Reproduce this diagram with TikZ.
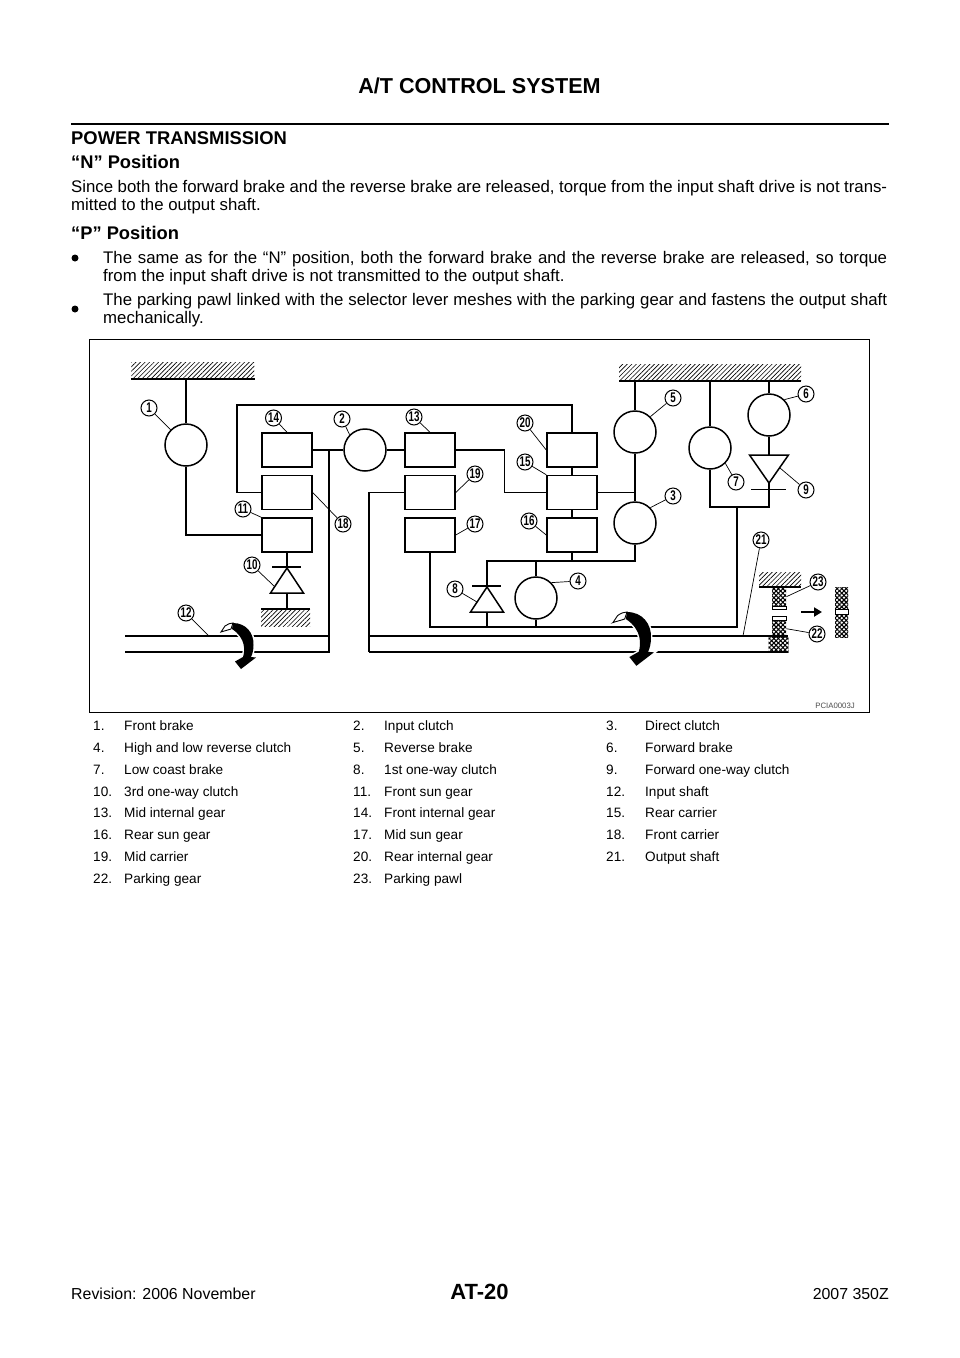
\documentclass[tikz,border=0pt]{standalone}
\usepackage{fontspec}
\setmainfont{Liberation Sans}
\usepackage{tikz}
\usetikzlibrary{arrows.meta, patterns.meta, positioning, calc}

\newcommand{\partno}[3][31pt]{\makebox[#1][l]{#2}#3}
\newcommand{\tagtext}[1]{\scalebox{.7}[1]{#1}}

\tikzset{
	wire/.style={line width=1.5pt},
	lead/.style={line width=.7pt},
	gearbox/.style={draw, line width=1.5pt, rectangle, minimum width=50pt, minimum height=34pt, inner sep=0pt},
	brake/.style={draw, line width=1.5pt, circle, minimum size=42pt, inner sep=0pt},
	tagno/.style={draw, line width=1pt, circle, minimum size=16pt, inner sep=0pt, font=\bfseries\fontsize{14}{14}\selectfont},
	wall/.style={rectangle, inner sep=0pt, pattern={Lines[angle=45,distance=3.2pt,line width=.65pt]}},
	mesh/.style={rectangle, inner sep=0pt, anchor=north west, preaction={pattern={Lines[angle=45,distance=3.2pt,line width=1.1pt]}}, pattern={Lines[angle=-45,distance=3.2pt,line width=1.1pt]}},
	gap/.style={draw, rectangle, line width=.9pt, inner sep=0pt, anchor=north west},
	txt/.style={anchor=base west, inner sep=0pt},
	body/.style={txt, font=\fontsize{16.8}{16.8}\selectfont},
	head/.style={txt, font=\bfseries\fontsize{18.3}{18.3}\selectfont},
	cell/.style={txt, font=\fontsize{13.6}{13.6}\selectfont},
	pics/diode/.style={code={
		\coordinate (-top) at (0,0);
		\coordinate (-base) at (0,25);
		\draw[wire] (0,0) -- (-16.5,25) -- (16.5,25) -- cycle;
		\draw[wire] (-15,-#1) -- (14,-#1);
	}},
	pics/turn/.style={code={
		\fill[preaction={draw=white, line width=3pt}] (0,0) .. controls (13,0) and (21,10) .. (20.5,22) .. controls (20.5,27) and (19.5,31) .. (18,34)
		-- (23,34.5) -- (8,46) -- (2,38.5) -- (10,34) .. controls (12,28) and (13,15) .. (-1,6) -- cycle;
		\draw[line width=.9pt, fill=white] (-12,9) -- (-8,3) .. controls (-5,1) and (-3,0) .. (0,0) -- (-2,6) .. controls (-5,7) and (-9,8) .. cycle;
	}},
}

\begin{document}
\begin{tikzpicture}[x=1pt,y=-1pt,node distance=42.5pt,on grid]
	\useasboundingbox (0,0) rectangle (960,1358);

	% page text
	\node[anchor=base, inner sep=0pt, font=\bfseries\fontsize{21.6}{21.6}\selectfont] (title) at (479.5,93) {A/T CONTROL SYSTEM};
	\coordinate (ra) at (71,124);
	\coordinate (rb) at (889,124);
	\draw[line width=2.6pt] (ra) -- (rb);
	\node[txt, font=\bfseries\fontsize{18.4}{18.4}\selectfont] (h1) at (71,144) {POWER TRANSMISSION};
	\node[head] (h2) at (71,168) {“N” Position};
	\node[body] (l1) at (71,192) {\makebox[816pt][s]{Since both the forward brake and the reverse brake are released, torque from the input shaft drive is not trans-}};
	\node[body] (l2) at (71,210) {mitted to the output shaft.};
	\node[head] (h3) at (71,239) {“P” Position};
	\node[circle, fill, minimum size=7pt, inner sep=0pt] (b1) at (75,258) {};
	\node[body] (l3) at (103,263) {\makebox[784pt][s]{The same as for the “N” position, both the forward brake and the reverse brake are released, so torque}};
	\node[body] (l4) at (103,281) {from the input shaft drive is not transmitted to the output shaft.};
	\node[circle, fill, minimum size=7pt, inner sep=0pt] (b2) at (75,309) {};
	\node[body] (l5) at (103,305) {\makebox[784pt][s]{The parking pawl linked with the selector lever meshes with the parking gear and fastens the output shaft}};
	\node[body] (l6) at (103,323) {mechanically.};

	\node[draw, line width=1.3pt, rectangle, anchor=north west, inner sep=0pt, minimum width=780pt, minimum height=373pt] (frame) at (89,339) {};

	% walls
	\node[wall, anchor=south west, minimum width=123pt, minimum height=16pt] (w1) at (131,379) {};
	\node[wall, anchor=north west, minimum width=49pt, minimum height=17pt] (w2) at (261,609) {};
	\node[wall, anchor=south west, minimum width=182pt, minimum height=16pt] (w3) at (619,381) {};
	\node[wall, anchor=south west, minimum width=42pt, minimum height=14pt] (w4) at (759,587) {};
	\draw[wire] (w1.south west) -- (w1.south east);
	\draw[wire] (w2.north west) -- (w2.north east);
	\draw[wire] (w3.south west) -- (w3.south east);
	\draw[wire] (w4.south west) -- (w4.south east);

	% planetary sets
	\node[gearbox] (g14) at (287,450) {};
	\node[gearbox, below = of g14] (g18) {};
	\node[gearbox, below = of g18] (g11) {};
	\node[gearbox, right = 143pt of g14] (g13) {};
	\node[gearbox, below = of g13] (g19) {};
	\node[gearbox, below = of g19] (g17) {};
	\node[gearbox, right = 142pt of g13] (g20) {};
	\node[gearbox, below = of g20] (g15) {};
	\node[gearbox, below = of g15] (g16) {};

	% clutches and brakes
	\node[brake] (c1) at (186,445) {};
	\node[brake] (c2) at (365,450) {};
	\node[brake] (c3) at (635,523) {};
	\node[brake] (c4) at (536,598) {};
	\node[brake] (c5) at (635,432) {};
	\node[brake] (c6) at (769,415) {};
	\node[brake] (c7) at (710,448) {};

	\pic (d10) at (287,568) {diode=1};
	\pic (d8) at (487,587) {diode=1};
	\pic[xscale=1.18, yscale=-1.12] (d9) at (769,483) {diode=6};

	% shafts
	\coordinate (s1a) at (125,636);
	\coordinate (s1b) at (329,636);
	\coordinate (s1c) at (329,652);
	\coordinate (s1d) at (125,652);
	\coordinate (s2a) at (369,636);
	\coordinate (s2b) at (788,636);
	\coordinate (s2c) at (788,652);
	\coordinate (s2d) at (369,652);
	\coordinate (j1) at (329,450);
	\coordinate (j2) at (237,405);
	\coordinate (j3) at (504.5,492);
	\coordinate (j4) at (428,627);
	\coordinate (j5) at (737,627);
	\coordinate (j6) at (737,507);
	\coordinate (j7) at (635,561);

	\draw[wire] (s1a) -- (s1b);
	\draw[wire] (s1d) -- (s1c) -- (j1);
	\draw[wire] (s2a) -- (s2b);
	\draw[wire] (s2d) -- (s2c);
	\draw[wire] (g19.west) -| (s2d);

	\draw[wire] (c1.north) -- (c1 |- w1.south);
	\draw[wire] (c1.south) |- (g11.west);
	\draw[wire] (g14.east) -- (c2.west);
	\draw[wire] (c2.east) -- (g13.west);
	\draw[wire] (g18.west) -| (j2) -| (g20.north);
	\draw[wire] (g11.south) -- (d10-top);
	\draw[wire] (d10-base) -- (d10-base |- w2.north);
	\draw[wire] (g13.east) -| (j3 |- g15.west) -- (g15.west);
	\draw[wire] (g20.south) -- (g15.north);
	\draw[wire] (g15.south) -- (g16.north);
	\draw[wire] (g16.south) -- (g16.south |- j7);
	\draw[wire] (g15.east) -- (c5.south |- g15.east);
	\draw[wire] (c5.north) -- (c5 |- w3.south);
	\draw[wire] (c5.south) -- (c3.north);
	\draw[wire] (d8-top) -- (d8-top |- j7) -- (j7) -- (c3.south);
	\draw[wire] (c4.north) -- (c4 |- j7);
	\draw[wire] (d8-base) -- (d8-base |- j4);
	\draw[wire] (c4.south) -- (c4 |- j4);
	\draw[wire] (g17.south) |- (j5) -- (j6);
	\draw[wire] (c7.north) -- (c7 |- w3.south);
	\draw[wire] (c6.north) -- (c6 |- w3.south);
	\draw[wire] (c6.south) -- (d9-base);
	\draw[wire] (c7.south) |- (d9-top |- j6) -- (d9-top);

	\pic at (233,623) {turn};
	\pic[scale=1.17] at (627,612) {turn};

	% parking lock
	\node[mesh, minimum width=20pt, minimum height=15pt] (m1) at (768,637) {};
	\node[mesh, minimum width=14pt, minimum height=17pt] (m2) at (772,620) {};
	\node[gap, minimum width=14pt, minimum height=4pt] (n2) at (772,616) {};
	\node[mesh, minimum width=14pt, minimum height=19pt] (m3) at (772,587) {};
	\node[gap, minimum width=14pt, minimum height=3pt] (n3) at (772,606) {};
	\node[mesh, minimum width=13pt, minimum height=22pt] (m4) at (835,587) {};
	\node[gap, minimum width=13pt, minimum height=5pt, line width=.4pt] (n4) at (835,609) {};
	\node[mesh, minimum width=13pt, minimum height=23pt] (m5) at (835,614) {};
	\coordinate (a1) at (801,612);
	\coordinate (a2) at (822,612);
	\draw[line width=2.8pt, -{Triangle[length=8pt,width=9pt]}] (a1) -- (a2);

	% numbered tags
	\node[tagno] (t1) at (149,408) {\tagtext{1}};
	\node[tagno] (t2) at (342,419) {\tagtext{2}};
	\node[tagno] (t3) at (673,496) {\tagtext{3}};
	\node[tagno] (t4) at (578,581) {\tagtext{4}};
	\node[tagno] (t5) at (673,398) {\tagtext{5}};
	\node[tagno] (t6) at (806,394) {\tagtext{6}};
	\node[tagno] (t7) at (736,482) {\tagtext{7}};
	\node[tagno] (t8) at (455,589) {\tagtext{8}};
	\node[tagno] (t9) at (806,490) {\tagtext{9}};
	\node[tagno] (t10) at (252,565) {\tagtext{10}};
	\node[tagno] (t11) at (243,509) {\tagtext{11}};
	\node[tagno] (t12) at (186,613) {\tagtext{12}};
	\node[tagno] (t13) at (414,417) {\tagtext{13}};
	\node[tagno] (t14) at (273.5,418) {\tagtext{14}};
	\node[tagno] (t15) at (525,462) {\tagtext{15}};
	\node[tagno] (t16) at (529,521) {\tagtext{16}};
	\node[tagno] (t17) at (475,524) {\tagtext{17}};
	\node[tagno] (t18) at (343,524) {\tagtext{18}};
	\node[tagno] (t19) at (475,474) {\tagtext{19}};
	\node[tagno] (t20) at (525,423) {\tagtext{20}};
	\node[tagno] (t21) at (761,540) {\tagtext{21}};
	\node[tagno] (t22) at (817,634) {\tagtext{22}};
	\node[tagno] (t23) at (818,582) {\tagtext{23}};

	\coordinate (e8) at (477,602);
	\coordinate (e9) at (780,468);
	\coordinate (e10) at (274,586);
	\coordinate (e12) at (209,636);
	\coordinate (e21) at (743,636);

	\draw[lead] (t1) -- (c1.north west);
	\draw[lead] (t2) -- (c2.north west);
	\draw[lead] (t3) -- (c3.north east);
	\draw[lead] (t4) -- (c4.north east);
	\draw[lead] (t5) -- (c5.north east);
	\draw[lead] (t6) -- (c6.north east);
	\draw[lead] (t7) -- (c7.south east);
	\draw[lead] (t8) -- (e8);
	\draw[lead] (t9) -- (e9);
	\draw[lead] (t10) -- (e10);
	\draw[lead] (t11) -- (g11.north west);
	\draw[lead] (t12) -- (e12);
	\draw[lead] (t13) -- (g13.north);
	\draw[lead] (t14) -- (g14.north);
	\draw[lead] (t15) -- (g15.north west);
	\draw[lead] (t16) -- (g16.west);
	\draw[lead] (t17) -- (g17.east);
	\draw[lead] (t18) -- (g18.east);
	\draw[lead] (t19) -- (g19.east);
	\draw[lead] (t20) -- (g20.west);
	\draw[lead] (t21) -- (e21);
	\draw[lead] (t22) -- (m2.east);
	\draw[lead] (t23) -- (m3.east);

	\node[anchor=base east, inner sep=0pt, text=black!70, font=\fontsize{7.8}{7.8}\selectfont] (code) at (855,708) {PCIA0003J};

	% parts table
	\node[cell] (p1) at (93,730) {\partno{1.}{Front brake}};
	\node[cell] (p2) at (353,730) {\partno{2.}{Input clutch}};
	\node[cell] (p3) at (606,730) {\partno[39pt]{3.}{Direct clutch}};
	\node[cell] (p4) at (93,752) {\partno{4.}{High and low reverse clutch}};
	\node[cell] (p5) at (353,752) {\partno{5.}{Reverse brake}};
	\node[cell] (p6) at (606,752) {\partno[39pt]{6.}{Forward brake}};
	\node[cell] (p7) at (93,774) {\partno{7.}{Low coast brake}};
	\node[cell] (p8) at (353,774) {\partno{8.}{1st one-way clutch}};
	\node[cell] (p9) at (606,774) {\partno[39pt]{9.}{Forward one-way clutch}};
	\node[cell] (p10) at (93,796) {\partno{10.}{3rd one-way clutch}};
	\node[cell] (p11) at (353,796) {\partno{11.}{Front sun gear}};
	\node[cell] (p12) at (606,796) {\partno[39pt]{12.}{Input shaft}};
	\node[cell] (p13) at (93,817) {\partno{13.}{Mid internal gear}};
	\node[cell] (p14) at (353,817) {\partno{14.}{Front internal gear}};
	\node[cell] (p15) at (606,817) {\partno[39pt]{15.}{Rear carrier}};
	\node[cell] (p16) at (93,839) {\partno{16.}{Rear sun gear}};
	\node[cell] (p17) at (353,839) {\partno{17.}{Mid sun gear}};
	\node[cell] (p18) at (606,839) {\partno[39pt]{18.}{Front carrier}};
	\node[cell] (p19) at (93,861) {\partno{19.}{Mid carrier}};
	\node[cell] (p20) at (353,861) {\partno{20.}{Rear internal gear}};
	\node[cell] (p21) at (606,861) {\partno[39pt]{21.}{Output shaft}};
	\node[cell] (p22) at (93,883) {\partno{22.}{Parking gear}};
	\node[cell] (p23) at (353,883) {\partno{23.}{Parking pawl}};

	% footer
	\node[txt, font=\fontsize{15.9}{15.9}\selectfont] (f1) at (71,1299) {Revision: 2006 November};
	\node[anchor=base, inner sep=0pt, font=\bfseries\fontsize{22}{22}\selectfont] (f2) at (479.5,1299) {AT-20};
	\node[anchor=base east, inner sep=0pt, font=\fontsize{15.9}{15.9}\selectfont] (f3) at (889,1299) {2007 350Z};
\end{tikzpicture}
\end{document}
